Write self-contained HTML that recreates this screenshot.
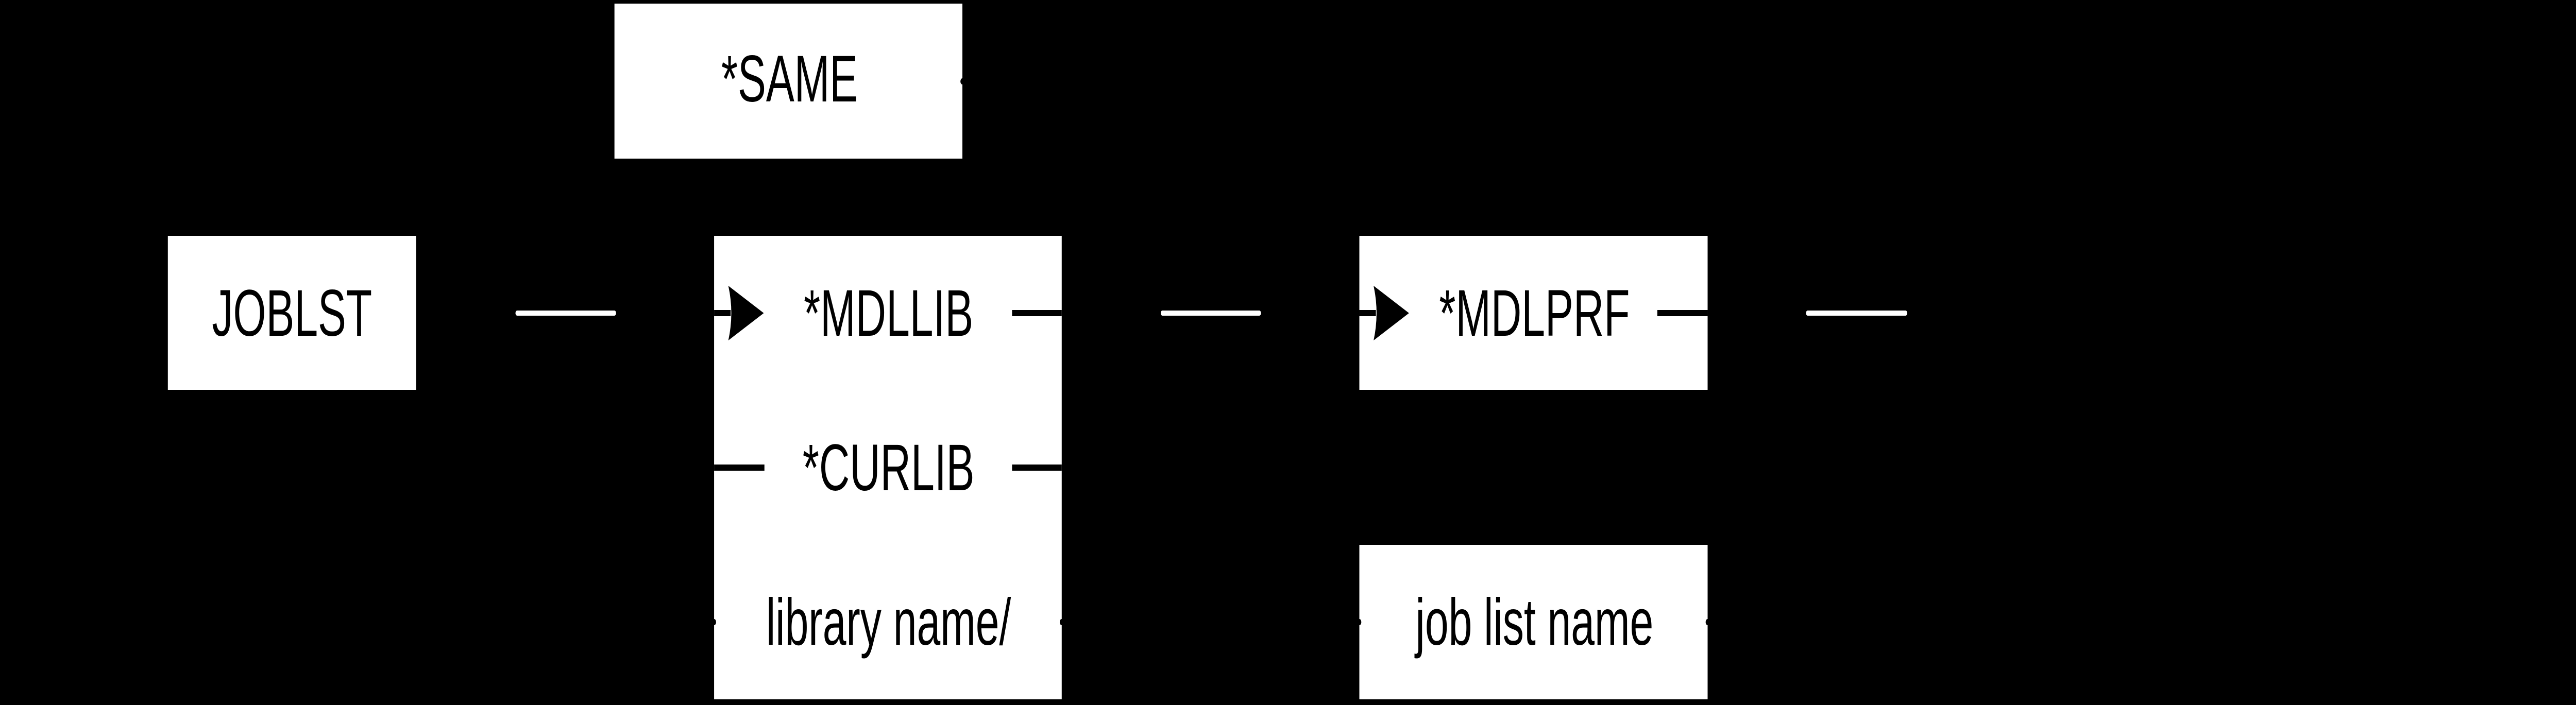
<!DOCTYPE html>
<html><head><meta charset="utf-8"><style>
html,body{margin:0;padding:0;background:#000;width:100%;height:100%;overflow:hidden;}
svg{display:block;width:100vw;height:100vh;}
text{font-family:"Liberation Sans",sans-serif;font-size:128px;fill:#000;text-anchor:middle;dominant-baseline:central;}
</style></head><body>
<svg viewBox="0 0 7781 1369" preserveAspectRatio="none" xmlns="http://www.w3.org/2000/svg">
<rect x="0" y="0" width="7781" height="1369" fill="#000"/>
<rect x="1856" y="7" width="1051" height="301" fill="#fff"/>
<rect x="507" y="458" width="750" height="299" fill="#fff"/>
<rect x="2157" y="458" width="1050" height="900" fill="#fff"/>
<rect x="4106" y="458" width="1052" height="299" fill="#fff"/>
<rect x="4106" y="1058" width="1052" height="300" fill="#fff"/>
<rect x="1557" y="603" width="304" height="10" rx="5" fill="#fff"/>
<rect x="3506" y="603" width="303" height="10" rx="5" fill="#fff"/>
<rect x="5455" y="603" width="306" height="10" rx="5" fill="#fff"/>
<rect x="2157" y="602" width="50" height="12" fill="#000"/>
<path d="M2200 555 L2307 608 L2200 661 Q2218 608 2200 555 Z" fill="#000"/>
<rect x="3057" y="602" width="150" height="12" fill="#000"/>
<rect x="2157" y="902" width="152" height="12" fill="#000"/>
<rect x="3057" y="902" width="150" height="12" fill="#000"/>
<rect x="4106" y="602" width="50" height="12" fill="#000"/>
<path d="M4149 555 L4256 608 L4149 661 Q4167 608 4149 555 Z" fill="#000"/>
<rect x="5006" y="602" width="152" height="12" fill="#000"/>
<circle cx="2907" cy="158" r="6" fill="#000"/>
<circle cx="2157" cy="1208" r="6" fill="#000"/>
<circle cx="3207" cy="1208" r="6" fill="#000"/>
<circle cx="4106" cy="1208" r="6" fill="#000"/>
<circle cx="5158" cy="1208" r="6" fill="#000"/>
<text x="2385" y="153">*SAME</text>
<text x="882" y="608">JOBLST</text>
<text x="2684" y="608">*MDLLIB</text>
<text x="2684" y="908">*CURLIB</text>
<text x="2684" y="1208">library name/</text>
<text x="4635" y="608">*MDLPRF</text>
<text x="4635" y="1208">job list name</text>
</svg>
</body></html>
